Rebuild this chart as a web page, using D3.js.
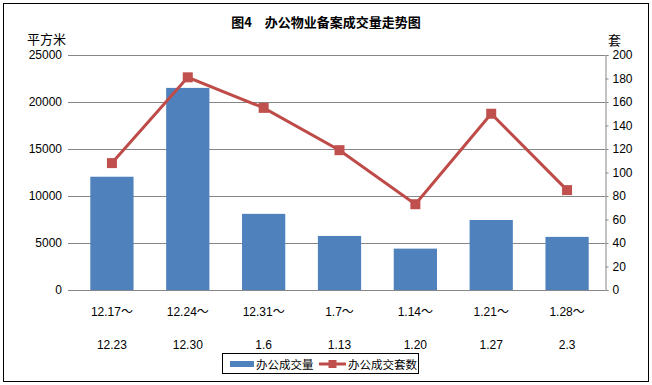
<!DOCTYPE html>
<html>
<head>
<meta charset="utf-8">
<script src="https://cdn.jsdelivr.net/npm/d3@7"></script>
<style>
  body { margin: 0; background: #fff; }
  svg text { font-family: "Liberation Sans", "Noto Sans CJK SC", sans-serif; }
</style>
</head>
<body>
<svg id="chart" width="652" height="385"></svg>
<script>
// week ranges (two-line labels)
const weekStart = ["12.17～", "12.24～", "12.31～", "1.7～", "1.14～", "1.21～", "1.28～"];
const weekEnd = ["12.23", "12.30", "1.6", "1.13", "1.20", "1.27", "2.3"];
// office floor area sold (sq m), left axis
const area = [12050, 21500, 8100, 5750, 4400, 7450, 5650];
// office units sold, right axis
const units = [108, 181, 155, 119, 73, 150, 85];
const leftTicks = [0, 5000, 10000, 15000, 20000, 25000];
const rightTicks = [0, 20, 40, 60, 80, 100, 120, 140, 160, 180, 200];

let svg = d3.select('#chart'),
    plot = {left: 74, right: 605, top: 55, bottom: 290};

// outer border
svg.append("rect")
    .attr("x", 3.5).attr("y", 3.5)
    .attr("width", 645).attr("height", 378)
    .attr("fill", "none").attr("stroke", "#000").attr("stroke-width", 1);

let xScale = d3.scaleBand()
    .domain(d3.range(weekStart.length))
    .range([plot.left, plot.right])
    .paddingInner(0.43).paddingOuter(0.215);

let yLeft = d3.scaleLinear().domain([0, 25000]).range([plot.bottom, plot.top]);
let yRight = d3.scaleLinear().domain([0, 200]).range([plot.bottom, plot.top]);

// gridlines
svg.append("g").selectAll("line")
    .data(leftTicks)
    .enter().append("line")
    .attr("x1", plot.left - 6).attr("x2", plot.right)
    .attr("y1", d => Math.round(yLeft(d)) + 0.5)
    .attr("y2", d => Math.round(yLeft(d)) + 0.5)
    .attr("stroke", "#868686");

// left axis labels
svg.append("g").selectAll("text")
    .data(leftTicks)
    .enter().append("text")
    .attr("x", 62)
    .attr("y", d => yLeft(d))
    .attr("dy", "0.35em")
    .attr("text-anchor", "end")
    .attr("font-size", 12)
    .text(d => d);

// right axis
let rightAxis = d3.axisRight(yRight).tickValues(rightTicks).tickSize(3).tickPadding(4);
let rg = svg.append("g")
    .attr("transform", "translate(" + (plot.right + 0.5) + ",0)")
    .call(rightAxis);
rg.select(".domain").attr("stroke", "#868686");
rg.selectAll(".tick line").attr("stroke", "#868686");
rg.selectAll(".tick text")
    .attr("font-size", 12)
    .attr("font-family", "Liberation Sans, sans-serif")
    .attr("fill", "#000");

// bars
svg.append("g").selectAll("rect")
    .data(area)
    .enter().append("rect")
    .attr("x", (d, i) => xScale(i))
    .attr("width", xScale.bandwidth())
    .attr("y", d => yLeft(d))
    .attr("height", d => plot.bottom - yLeft(d))
    .attr("fill", "#4F81BD");

// bottom axis line drawn over bars
svg.append("line")
    .attr("x1", plot.left).attr("x2", plot.right)
    .attr("y1", plot.bottom + 0.5).attr("y2", plot.bottom + 0.5)
    .attr("stroke", "#868686");

// line series
let cx = i => xScale(i) + xScale.bandwidth() / 2;
let line = d3.line()
    .x((d, i) => cx(i))
    .y(d => yRight(d));
svg.append("path")
    .datum(units)
    .attr("d", line)
    .attr("fill", "none")
    .attr("stroke", "#BE4B48")
    .attr("stroke-width", 3);
svg.append("g").selectAll("rect")
    .data(units)
    .enter().append("rect")
    .attr("x", (d, i) => cx(i) - 5)
    .attr("y", d => yRight(d) - 5)
    .attr("width", 10).attr("height", 10)
    .attr("fill", "#C0504D");

// category labels
let labels = svg.append("g").selectAll("g")
    .data(weekStart)
    .enter().append("g")
    .attr("transform", (d, i) => "translate(" + cx(i) + ",0)");
labels.append("text")
    .attr("y", 316)
    .attr("text-anchor", "middle")
    .attr("font-size", 12)
    .text(d => d);
labels.append("text")
    .attr("y", 349)
    .attr("text-anchor", "middle")
    .attr("font-size", 12)
    .text((d, i) => weekEnd[i]);

// title and axis units
svg.append("text")
    .attr("x", 326).attr("y", 27)
    .attr("text-anchor", "middle")
    .attr("font-size", 13).attr("font-weight", "bold")
    .style("font-family", "Noto Sans CJK SC")
    .text("图4　办公物业备案成交量走势图");
svg.append("text")
    .attr("x", 27).attr("y", 44)
    .attr("font-size", 13)
    .style("font-family", "Noto Sans CJK SC")
    .text("平方米");
svg.append("text")
    .attr("x", 608).attr("y", 45)
    .attr("font-size", 13)
    .style("font-family", "Noto Sans CJK SC")
    .text("套");

// legend
let lg = svg.append("g");
lg.append("rect")
    .attr("x", 222.5).attr("y", 353.5)
    .attr("width", 196).attr("height", 20)
    .attr("fill", "#fff").attr("stroke", "#000");
lg.append("rect")
    .attr("x", 230).attr("y", 361)
    .attr("width", 24).attr("height", 6)
    .attr("fill", "#4F81BD");
lg.append("text")
    .attr("x", 256).attr("y", 368.5)
    .attr("font-size", 11.5)
    .style("font-family", "Noto Sans CJK SC")
    .text("办公成交量");
lg.append("line")
    .attr("x1", 319).attr("x2", 346)
    .attr("y1", 364).attr("y2", 364)
    .attr("stroke", "#BE4B48").attr("stroke-width", 3);
lg.append("rect")
    .attr("x", 328.5).attr("y", 360)
    .attr("width", 8).attr("height", 8)
    .attr("fill", "#C0504D");
lg.append("text")
    .attr("x", 348).attr("y", 368.5)
    .attr("font-size", 11.5)
    .style("font-family", "Noto Sans CJK SC")
    .text("办公成交套数");
</script>
</body>
</html>
